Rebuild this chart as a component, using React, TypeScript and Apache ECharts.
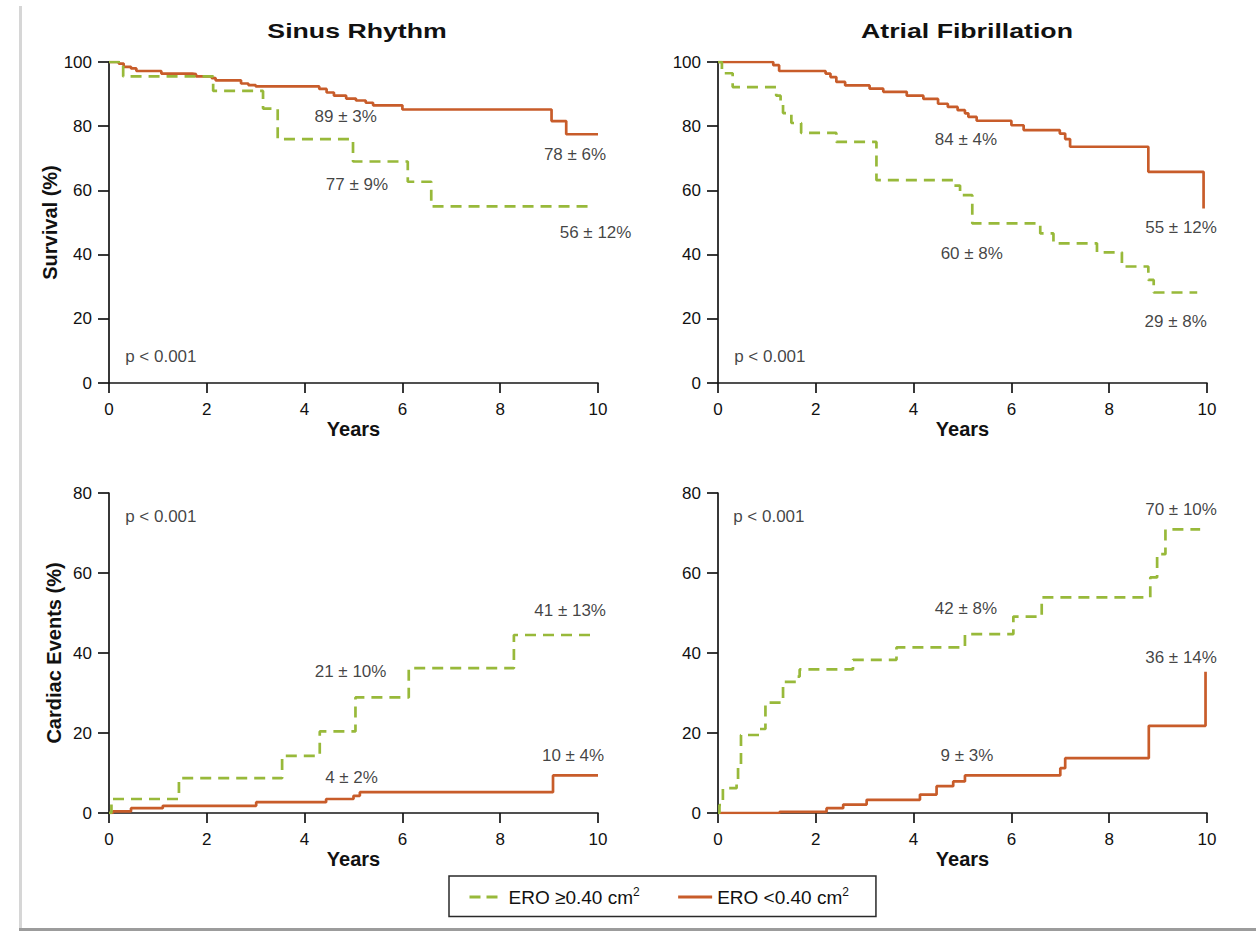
import React, { useEffect, useRef } from "react";
import * as echarts from "echarts";

const FONT = '"Liberation Sans", Arial, Helvetica, sans-serif';
const GREEN = "#98b93a";
const ORANGE = "#c85c2a";
const TEXT = "#111111";
const HIGH = "ERO ≥0.40 cm²";
const LOW = "ERO <0.40 cm²";

const panelTitles = ["Sinus Rhythm", "Atrial Fibrillation"];
const yNames = ["Survival (%)", "Cardiac Events (%)"];
const xName = "Years";

// [year, %] — value holds from this year until the next step
const srSurvHigh = [[0, 100], [0.29, 95.5], [2.13, 91], [3.15, 85.5], [3.45, 76], [4.99, 69], [6.11, 62.7], [6.59, 55], [9.83, 55]];
const srSurvLow = [[0, 100], [0.2, 99.5], [0.3, 98.5], [0.45, 98], [0.56, 97.2], [1.07, 96.4], [1.7, 96.2], [1.78, 95.5], [2.1, 95], [2.18, 94.3], [2.7, 93.3], [2.85, 92.8], [3.0, 92.4], [4.3, 91.6], [4.45, 90.5], [4.6, 89.5], [4.85, 88.6], [5.05, 88], [5.25, 87.3], [5.4, 86.5], [6.0, 85.2], [9.05, 81.6], [9.35, 77.5], [10, 77.5]];
const afSurvHigh = [[0, 100], [0.08, 96.5], [0.3, 92.2], [1.19, 89.5], [1.28, 87.5], [1.33, 84.1], [1.5, 81], [1.7, 77.9], [2.42, 75.1], [3.24, 63.2], [4.81, 61.5], [4.95, 58.5], [5.2, 49.7], [6.59, 46.6], [6.86, 43.5], [7.75, 40.7], [8.26, 36.3], [8.8, 32.1], [8.91, 28.2], [9.8, 28.2]];
const afSurvLow = [[0, 100], [1.13, 99], [1.25, 97.2], [2.2, 96.4], [2.3, 95.3], [2.42, 93.8], [2.6, 92.7], [3.1, 91.7], [3.38, 90.7], [3.86, 89.5], [4.2, 88.5], [4.5, 87], [4.7, 86], [4.9, 85], [5.05, 84], [5.12, 82.9], [5.29, 81.7], [6.0, 80.3], [6.25, 78.8], [6.99, 77.7], [7.1, 76], [7.2, 73.6], [8.8, 65.8], [9.93, 54.4]];
const srEvHigh = [[0, 0], [0.05, 3.5], [1.43, 8.7], [3.54, 14.3], [4.31, 20.4], [5.04, 28.9], [6.13, 36.2], [8.28, 44.5], [9.97, 44.5]];
const srEvLow = [[0, 0], [0.08, 0.4], [0.45, 1.2], [1.1, 1.8], [3.01, 2.7], [4.44, 3.5], [5.0, 4.3], [5.13, 5.2], [9.08, 9.4], [10, 9.4]];
const afEvHigh = [[0, 0], [0.03, 2], [0.1, 6.2], [0.38, 7.9], [0.41, 12], [0.47, 19.5], [0.85, 21], [0.97, 27.6], [1.3, 28.3], [1.33, 32.8], [1.6, 34.1], [1.67, 35.9], [2.76, 38.3], [3.65, 41.4], [5.05, 44.7], [6.04, 49.1], [6.62, 53.9], [8.84, 58.9], [8.98, 64.7], [9.15, 70.9], [9.86, 70.9]];
const afEvLow = [[0, 0], [1.26, 0.3], [2.22, 1.2], [2.56, 2.1], [3.04, 3.3], [4.13, 4.6], [4.47, 6.7], [4.81, 7.9], [5.05, 9.4], [7.0, 11.2], [7.1, 13.7], [8.81, 21.8], [9.97, 35.3]];

// annotation texts at [year, %]
const srSurvNotes = [[4.84, 82.9, "89 ± 3%"], [9.53, 71.3, "78 ± 6%"], [5.07, 61.7, "77 ± 9%"], [9.95, 47.0, "56 ± 12%"]];
const afSurvNotes = [[5.07, 75.9, "84 ± 4%"], [9.47, 48.3, "55 ± 12%"], [5.19, 40.2, "60 ± 8%"], [9.36, 19.2, "29 ± 8%"]];
const srEvNotes = [[9.43, 50.6, "41 ± 13%"], [4.94, 35.3, "21 ± 10%"], [9.49, 14.5, "10 ± 4%"], [4.96, 8.9, "4 ± 2%"]];
const afEvNotes = [[9.47, 75.8, "70 ± 10%"], [5.07, 51.2, "42 ± 8%"], [9.47, 38.8, "36 ± 14%"], [5.09, 14.5, "9 ± 3%"]];
const pNotes = [[0.33, 8.2, "p < 0.001"], [0.33, 8.2, "p < 0.001"], [0.33, 74.2, "p < 0.001"], [0.31, 74.2, "p < 0.001"]];

const yMax = [100, 100, 80, 80];

export default function App() {
  const ref = useRef<HTMLDivElement>(null);

  useEffect(() => {
    document.body.style.margin = "0";
    const chart = echarts.init(ref.current!, null, { renderer: "svg" });

    const grids = [
      { left: 109, top: 62, width: 489, height: 321 },
      { left: 718, top: 62, width: 489, height: 321 },
      { left: 109, top: 493, width: 489, height: 320 },
      { left: 718, top: 493, width: 489, height: 320 },
    ];

    const axisLineStyle = { color: "#161616", width: 1.7 };
    const xAxes = grids.map((_, i) => ({
      type: "value",
      gridIndex: i,
      min: 0,
      max: 10,
      interval: 2,
      name: xName,
      nameLocation: "middle",
      nameGap: 36,
      nameTextStyle: { fontFamily: FONT, fontSize: 20, fontWeight: "bold", color: TEXT },
      axisLine: { show: true, onZero: false, lineStyle: axisLineStyle },
      axisTick: { show: true, length: 10, lineStyle: axisLineStyle },
      axisLabel: { fontFamily: FONT, fontSize: 17, color: TEXT, margin: 18 },
      splitLine: { show: false },
    }));
    const yAxes = grids.map((_, i) => ({
      type: "value",
      gridIndex: i,
      min: 0,
      max: yMax[i],
      interval: 20,
      name: i % 2 === 0 ? yNames[i / 2] : "",
      nameLocation: "middle",
      nameGap: 45,
      nameTextStyle: { fontFamily: FONT, fontSize: 20, fontWeight: "bold", color: TEXT },
      axisLine: { show: true, onZero: false, lineStyle: axisLineStyle },
      axisTick: { show: true, length: 11, lineStyle: axisLineStyle },
      axisLabel: { fontFamily: FONT, fontSize: 17, color: TEXT, margin: 17 },
      splitLine: { show: false },
    }));

    const curves = [
      [srSurvHigh, srSurvLow],
      [afSurvHigh, afSurvLow],
      [srEvHigh, srEvLow],
      [afEvHigh, afEvLow],
    ];
    const notes = [srSurvNotes, afSurvNotes, srEvNotes, afEvNotes];
    const greenDash = [11, 7];

    const series: any[] = [];
    curves.forEach(([hi, lo], i) => {
      series.push({
        name: LOW,
        type: "line",
        step: "end",
        xAxisIndex: i,
        yAxisIndex: i,
        data: lo,
        symbol: "none",
        showSymbol: false,
        lineStyle: { color: ORANGE, width: 2.7 },
        itemStyle: { color: ORANGE },
        silent: true,
        z: 3,
      });
      series.push({
        name: HIGH,
        type: "line",
        step: "end",
        xAxisIndex: i,
        yAxisIndex: i,
        data: hi,
        symbol: "none",
        showSymbol: false,
        lineStyle: { color: GREEN, width: 2.7, type: greenDash },
        itemStyle: { color: GREEN },
        silent: true,
        z: 4,
      });
      series.push({
        name: "notes" + i,
        type: "scatter",
        xAxisIndex: i,
        yAxisIndex: i,
        symbolSize: 0,
        silent: true,
        data: notes[i],
        label: {
          show: true,
          position: "inside",
          formatter: (p: any) => p.data[2],
          fontFamily: FONT,
          fontSize: 17,
          color: TEXT,
        },
        z: 5,
      });
      series.push({
        name: "p" + i,
        type: "scatter",
        xAxisIndex: i,
        yAxisIndex: i,
        symbolSize: 0,
        silent: true,
        data: [pNotes[i]],
        label: {
          show: true,
          position: "right",
          distance: 0,
          formatter: (p: any) => p.data[2],
          fontFamily: FONT,
          fontSize: 17,
          color: TEXT,
        },
        z: 5,
      });
    });

    chart.setOption({
      animation: false,
      backgroundColor: "#ffffff",
      grid: grids.map((g) => ({ ...g, containLabel: false })),
      xAxis: xAxes,
      yAxis: yAxes,
      legend: {
        data: [
          {
            name: HIGH,
            itemStyle: { color: "transparent", borderWidth: 0, opacity: 0 },
            lineStyle: { color: GREEN, width: 3, type: [11, 6], opacity: 1 },
          },
          {
            name: LOW,
            itemStyle: { color: "transparent", borderWidth: 0, opacity: 0 },
            lineStyle: { color: ORANGE, width: 3, opacity: 1 },
          },
        ],
        left: 449,
        top: 876,
        orient: "horizontal",
        itemWidth: 34,
        itemHeight: 14,
        itemGap: 37,
        padding: [10, 27, 10, 19],
        borderColor: "#2a2a2a",
        borderWidth: 1.5,
        backgroundColor: "#fff",
        selectedMode: false,
        formatter: (name: string) => "{t|" + name.replace("²", "") + "}{s|2}",
        textStyle: {
          fontFamily: FONT,
          fontSize: 19,
          color: TEXT,
          rich: {
            t: { fontFamily: FONT, fontSize: 19, color: TEXT, lineHeight: 22 },
            s: { fontFamily: FONT, fontSize: 12, color: TEXT, lineHeight: 12, verticalAlign: "top" },
          },
        },
      },
      graphic: [
        { type: "rect", z: -10, shape: { x: 19, y: 6, width: 3, height: 925 }, style: { fill: "#d6d6d6" } },
        { type: "rect", z: -10, shape: { x: 19, y: 928, width: 1237, height: 3 }, style: { fill: "#9c9c9c" } },
        {
          type: "text",
          x: 357,
          y: 31,
          scaleX: 1.27,
          style: { text: panelTitles[0], font: "bold 21px " + FONT, fill: TEXT, textAlign: "center", textVerticalAlign: "middle" },
        },
        {
          type: "text",
          x: 967,
          y: 31,
          scaleX: 1.27,
          style: { text: panelTitles[1], font: "bold 21px " + FONT, fill: TEXT, textAlign: "center", textVerticalAlign: "middle" },
        },
      ],
      series,
    });

    return () => chart.dispose();
  }, []);

  return <div ref={ref} style={{ width: 1256, height: 931 }} />;
}
